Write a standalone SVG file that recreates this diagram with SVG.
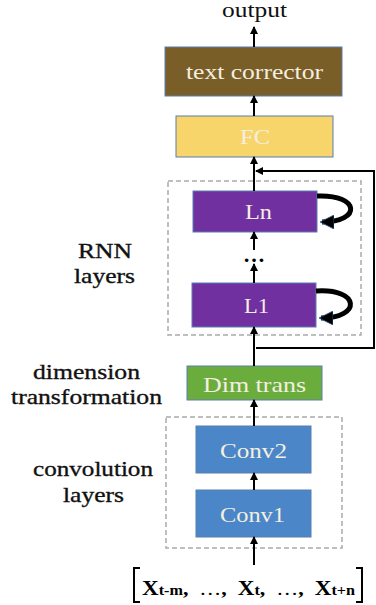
<svg xmlns="http://www.w3.org/2000/svg" width="376" height="605" viewBox="0 0 376 605">
<style>
.serif{font-family:"Liberation Serif","Times New Roman",serif;}
.box{stroke:#5b7fb0;stroke-width:1;}
.lbl{font-size:22px;fill:#f4efe0;}
.side{font-size:22px;fill:#111;stroke:#111;stroke-width:0.35;}
.dash{fill:none;stroke:#aaa;stroke-width:1.5;stroke-dasharray:5 3;}
.ln{stroke:#000;stroke-width:2;fill:none;}
</style>
<defs>
<marker id="ah" markerWidth="8" markerHeight="8" refX="7" refY="4" orient="auto" markerUnits="userSpaceOnUse">
<path d="M0,0 L8,4 L0,8 Z" fill="#000"/>
</marker>
<marker id="ahb" markerWidth="14" markerHeight="14" refX="12" refY="7" orient="auto" markerUnits="userSpaceOnUse">
<path d="M0,0 L14,7 L0,14 Z" fill="#000" stroke="#2e5d8a" stroke-width="0.8"/>
</marker>
</defs>
<rect width="376" height="605" fill="#fff"/>

<g id="groups">
<rect class="dash" x="168" y="181" width="193" height="154"/>
<rect class="dash" x="166" y="417" width="176" height="131"/>
</g>

<g id="output"><text class="serif" x="222" y="17" font-size="20" fill="#111" textLength="65" lengthAdjust="spacingAndGlyphs">output</text></g>

<g id="text-corrector"><rect class="box" x="165" y="47" width="177" height="49" fill="#7a5e28"/><text class="serif lbl" x="186" y="79" textLength="137" lengthAdjust="spacingAndGlyphs">text corrector</text></g>
<g id="fc"><rect class="box" x="176" y="116" width="157" height="41" fill="#f8d56a"/><text class="serif lbl" x="240" y="144" textLength="30" lengthAdjust="spacingAndGlyphs">FC</text></g>
<g id="ln"><rect class="box" x="193" y="191" width="124" height="41" fill="#7030a0"/><text class="serif lbl" x="245" y="219" font-size="20" textLength="27" lengthAdjust="spacingAndGlyphs">Ln</text></g>
<g id="l1"><rect class="box" x="192" y="283" width="124" height="44" fill="#7030a0"/><text class="serif lbl" x="244" y="313" font-size="20" textLength="25" lengthAdjust="spacingAndGlyphs">L1</text></g>
<g id="dots"><text class="serif" x="254" y="262" font-size="22" text-anchor="middle" font-weight="bold" fill="#000">…</text></g>
<g id="dim-trans"><rect class="box" x="187" y="366" width="135" height="34" fill="#6aad3d"/><text class="serif lbl" x="203" y="392" textLength="103" lengthAdjust="spacingAndGlyphs">Dim trans</text></g>
<g id="conv2"><rect class="box" x="196" y="426" width="115" height="47" fill="#4a86c8"/><text class="serif lbl" x="220" y="458" textLength="67" lengthAdjust="spacingAndGlyphs">Conv2</text></g>
<g id="conv1"><rect class="box" x="196" y="490" width="115" height="47" fill="#4a86c8"/><text class="serif lbl" x="220" y="522" textLength="65" lengthAdjust="spacingAndGlyphs">Conv1</text></g>

<g id="labels">
<text class="serif side" x="78" y="258" textLength="54" lengthAdjust="spacingAndGlyphs">RNN</text>
<text class="serif side" x="74" y="283" textLength="61" lengthAdjust="spacingAndGlyphs">layers</text>
<text class="serif side" x="33" y="379" textLength="107" lengthAdjust="spacingAndGlyphs">dimension</text>
<text class="serif side" x="11" y="404" textLength="151" lengthAdjust="spacingAndGlyphs">transformation</text>
<text class="serif side" x="33" y="476" stroke-width="0.6" textLength="120" lengthAdjust="spacingAndGlyphs">convolution</text>
<text class="serif side" x="63" y="502" stroke-width="0.6" textLength="61" lengthAdjust="spacingAndGlyphs">layers</text>
</g>

<g id="input">
<path d="M140,568 L134,568 L134,602 L140,602" class="ln" stroke-width="2.5"/>
<path d="M356,568 L362,568 L362,602 L356,602" class="ln" stroke-width="2.5"/>
<text class="serif" x="142" y="595" font-size="19" fill="#000" font-weight="bold" textLength="213" lengthAdjust="spacingAndGlyphs" xml:space="preserve"><tspan font-size="20">X</tspan><tspan font-size="14">t-m</tspan>,  <tspan font-weight="normal">…</tspan>,  <tspan font-size="20">X</tspan><tspan font-size="14">t</tspan>,  <tspan font-weight="normal">…</tspan>,  <tspan font-size="20">X</tspan><tspan font-size="14">t+n</tspan></text>
</g>

<g id="connectors">
<line class="ln" x1="254" y1="47" x2="254" y2="27" marker-end="url(#ah)"/>
<line class="ln" x1="254" y1="116" x2="254" y2="96" marker-end="url(#ah)"/>
<line class="ln" x1="254" y1="191" x2="254" y2="157" marker-end="url(#ah)"/>
<polyline class="ln" points="256,348 374,348 374,171 256,171" marker-end="url(#ah)"/>
<line class="ln" x1="254" y1="250" x2="254" y2="232" marker-end="url(#ah)"/>
<line class="ln" x1="254" y1="283" x2="254" y2="264" marker-end="url(#ah)"/>
<line class="ln" x1="254" y1="366" x2="254" y2="327" marker-end="url(#ah)"/>
<line class="ln" x1="254" y1="426" x2="254" y2="400" marker-end="url(#ah)"/>
<line class="ln" x1="254" y1="490" x2="254" y2="473" marker-end="url(#ah)"/>
<line class="ln" x1="254" y1="565" x2="254" y2="537" marker-end="url(#ah)"/>
<path d="M317,196 C360,194 362,222 322,222" fill="none" stroke="#000" stroke-width="5" marker-end="url(#ahb)"/>
<path d="M316,291 C360,288 362,318 321,318" fill="none" stroke="#000" stroke-width="5" marker-end="url(#ahb)"/>
</g>
</svg>
